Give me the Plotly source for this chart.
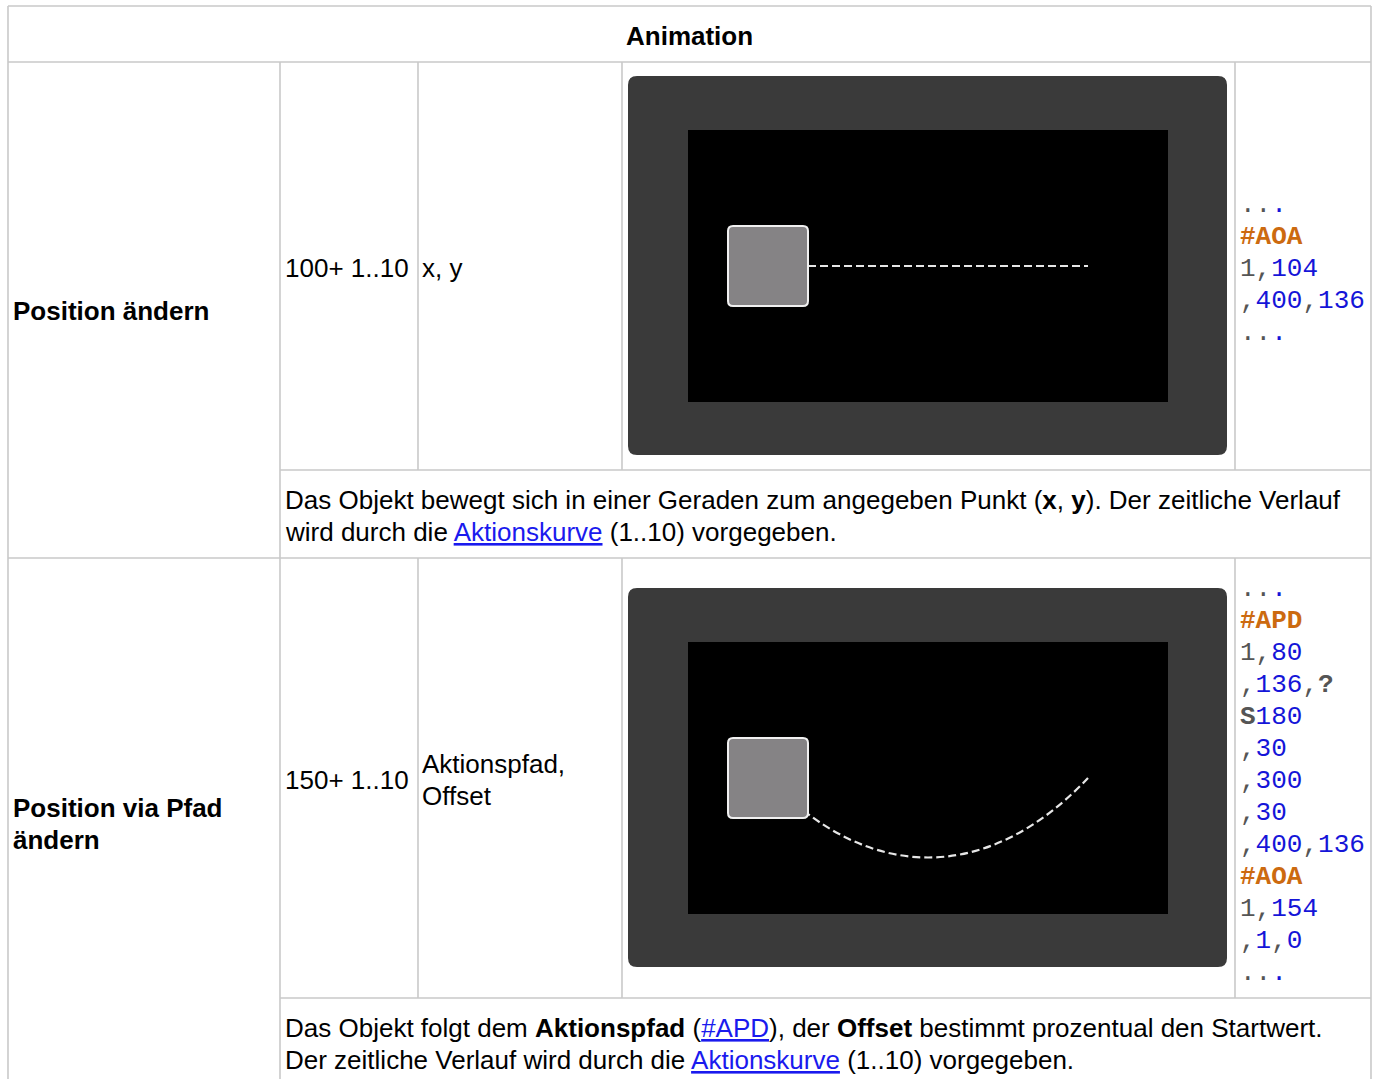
import plotly.graph_objects as go

# ---------------- data ----------------
header_text = "Animation"
row_titles = [["Position ändern"], ["Position via Pfad", "ändern"]]
row_ids = ["100+ 1..10", "150+ 1..10"]
row_params = [["x, y"], ["Aktionspfad,", "Offset"]]

LINK = "<span style='color:#1a1aee;text-decoration:underline'>{}</span>"
row_desc = [
    ["Das Objekt bewegt sich in einer Geraden zum angegeben Punkt (<b>x</b>, <b>y</b>). Der zeitliche Verlauf",
     "wird durch die " + LINK.format("Aktionskurve") + " (1..10) vorgegeben."],
    ["Das Objekt folgt dem <b>Aktionspfad</b> (" + LINK.format("#APD") + "), der <b>Offset</b> bestimmt prozentual den Startwert.",
     "Der zeitliche Verlauf wird durch die " + LINK.format("Aktionskurve") + " (1..10) vorgegeben."],
]

# code tokens: (text, style)  g=gray, b=blue number, o=orange bold keyword, k=gray bold
code_row1 = [
    [("..", "g"), (".", "b")],
    [("#AOA", "o")],
    [("1", "g"), (",", "g"), ("104", "b")],
    [(",", "g"), ("400", "b"), (",", "g"), ("136", "b")],
    [("..", "g"), (".", "b")],
]
code_row2 = [
    [("..", "g"), (".", "b")],
    [("#APD", "o")],
    [("1", "g"), (",", "g"), ("80", "b")],
    [(",", "g"), ("136", "b"), (",", "g"), ("?", "k")],
    [("S", "k"), ("180", "b")],
    [(",", "g"), ("30", "b")],
    [(",", "g"), ("300", "b")],
    [(",", "g"), ("30", "b")],
    [(",", "g"), ("400", "b"), (",", "g"), ("136", "b")],
    [("#AOA", "o")],
    [("1", "g"), (",", "g"), ("154", "b")],
    [(",", "g"), ("1", "b"), (",", "g"), ("0", "b")],
    [("..", "g"), (".", "b")],
]

# animation geometry in display coordinates (480 x 272 screen, y up)
screen_w, screen_h = 480, 272
obj_center = (80, 136)
obj_size = 80
move_target = (400, 136)             # #AOA ... 400,136
path_ctrl_x = [80, 180, 300, 400]    # #APD cubic path
path_ctrl_y = [136, 30, 30, 136]

# ---------------- layout constants (page pixels) ----------------
W, H = 1384, 1079

GRID = "#c9c9c9"
TXT = "#000000"
SANS = "Liberation Sans, Arial, sans-serif"
MONO = "Liberation Mono, Courier New, monospace"
FS = 26
STYLE = {"g": "color:#555555", "b": "color:#1515d8", "o": "color:#cc6a10;font-weight:bold",
         "k": "color:#555555;font-weight:bold"}

T_L, T_R, T_T = 8, 1371, 6
HDR_B = 62
ROW_SPLIT = 558
SUBS = [470, 998]
COLS = [280, 418, 622, 1235]
ROW_TOP = [62, 558]

fig = go.Figure()

shapes = []
ann = []


def line(x0, y0, x1, y1):
    shapes.append(dict(type="line", xref="x", yref="y", x0=x0, y0=y0, x1=x1, y1=y1,
                       line=dict(color=GRID, width=1.6), layer="above"))


def rrect_path(x0, y0, x1, y1, r):
    return (f"M{x0+r},{y0} L{x1-r},{y0} Q{x1},{y0} {x1},{y0+r} L{x1},{y1-r} Q{x1},{y1} {x1-r},{y1} "
            f"L{x0+r},{y1} Q{x0},{y1} {x0},{y1-r} L{x0},{y0+r} Q{x0},{y0} {x0+r},{y0} Z")


def text(x, y, s, size=FS, family=SANS, xanchor="left", color=TXT):
    ann.append(dict(x=x, y=y, xref="x", yref="y", text=s, showarrow=False, xanchor=xanchor,
                    yanchor="middle", align="left", font=dict(family=family, size=size, color=color)))


# table grid
line(T_L, T_T, T_R, T_T)
line(T_L, T_T, T_L, H + 5)
line(T_R, T_T, T_R, H + 5)
line(T_L, HDR_B, T_R, HDR_B)
line(T_L, ROW_SPLIT, T_R, ROW_SPLIT)
for s in SUBS:
    line(COLS[0], s, T_R, s)
line(COLS[0], HDR_B, COLS[0], H + 5)
for c in COLS[1:]:
    line(c, ROW_TOP[0], c, SUBS[0])
    line(c, ROW_TOP[1], c, SUBS[1])

# header
text((T_L + T_R) / 2, 35.5, f"<b>{header_text}</b>", xanchor="center")

# rows
title_y = [[311], [808, 840]]
id_y = [268, 780]
param_y = [[268], [764, 796]]
desc_y = [[500, 532], [1028, 1060]]
for i in range(2):
    for t, yy in zip(row_titles[i], title_y[i]):
        text(11, yy, f"<b>{t}</b>")
    text(283, id_y[i], row_ids[i])
    for t, yy in zip(row_params[i], param_y[i]):
        text(420, yy, t)
    for t, yy in zip(row_desc[i], desc_y[i]):
        text(283, yy, t)

# code listings
code_start = [205, 589]
for rows, y0 in zip([code_row1, code_row2], code_start):
    for k, toks in enumerate(rows):
        s = "".join(f"<span style='{STYLE[st]}'>{tx}</span>" for tx, st in toks)
        text(1238, y0 + 32 * k, s, family=MONO)

# device panels
panels = [(628, 76, 1227, 455), (628, 588, 1227, 967)]
screens = [(688, 130, 1168, 402), (688, 642, 1168, 914)]
for (x0, y0, x1, y1) in panels:
    shapes.append(dict(type="path", xref="x", yref="y", path=rrect_path(x0, y0, x1, y1, 9),
                       fillcolor="#3a3a3a", line=dict(width=0), layer="above"))

axes = {}
for k, (sx0, sy0, sx1, sy1) in enumerate(screens):
    n = k + 2
    axes[f"xaxis{n}"] = dict(domain=[sx0 / W, sx1 / W], range=[0, screen_w],
                             visible=False, fixedrange=True, anchor=f"y{n}")
    axes[f"yaxis{n}"] = dict(domain=[(H - sy1) / H, (H - sy0) / H], range=[0, screen_h],
                             visible=False, fixedrange=True, anchor=f"x{n}")
    fig.add_trace(go.Scatter(x=[], y=[], xaxis=f"x{n}", yaxis=f"y{n}", showlegend=False))
    shapes.append(dict(type="rect", xref=f"x{n}", yref=f"y{n}", x0=0, y0=0, x1=screen_w, y1=screen_h,
                       fillcolor="#000000", line=dict(width=0), layer="above"))

DASH = dict(color="#e6e6e6", width=2.2, dash="8px,4px")
# panel 1: straight move
shapes.append(dict(type="line", xref="x2", yref="y2", x0=obj_center[0] + obj_size / 2, y0=obj_center[1],
                   x1=move_target[0], y1=move_target[1], line=DASH, layer="above"))
# panel 2: cubic path
p = "M{},{} C{},{} {},{} {},{}".format(path_ctrl_x[0], path_ctrl_y[0], path_ctrl_x[1], path_ctrl_y[1],
                                        path_ctrl_x[2], path_ctrl_y[2], path_ctrl_x[3], path_ctrl_y[3])
shapes.append(dict(type="path", xref="x3", yref="y3", path=p, line=DASH, layer="above"))

# objects (rounded gray squares)
for n in (2, 3):
    h = obj_size / 2
    shapes.append(dict(type="path", xref=f"x{n}", yref=f"y{n}",
                       path=rrect_path(obj_center[0] - h, obj_center[1] - h, obj_center[0] + h, obj_center[1] + h, 5),
                       fillcolor="#858385", line=dict(color="#f0f0f0", width=2), layer="above"))

fig.update_layout(
    width=W, height=H, margin=dict(l=0, r=0, t=0, b=0, pad=0),
    paper_bgcolor="white", plot_bgcolor="white", showlegend=False,
    xaxis=dict(domain=[0, 1], range=[0, W], visible=False, fixedrange=True),
    yaxis=dict(domain=[0, 1], range=[H, 0], visible=False, fixedrange=True),
    shapes=shapes, annotations=ann, **axes,
)

fig.write_html("out.html", config={"displayModeBar": False},
               post_script="document.body.style.margin='0px';document.body.style.overflow='hidden';")
